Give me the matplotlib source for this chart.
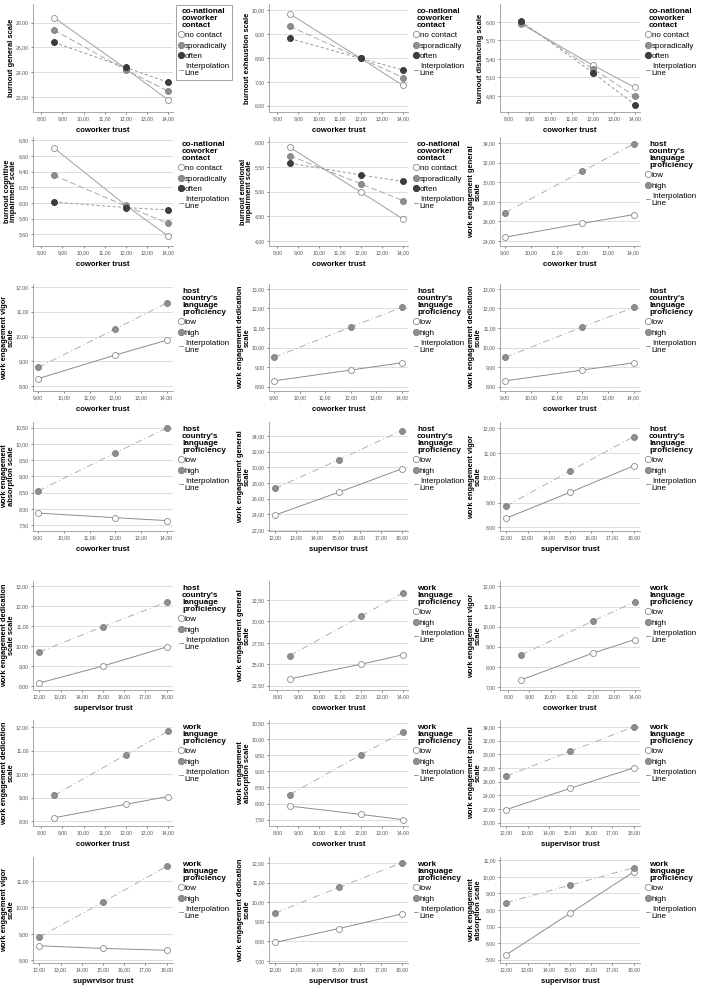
import matplotlib.pyplot as plt
from matplotlib.lines import Line2D

plt.rcParams['font.family'] = ['Liberation Sans', 'DejaVu Sans']

W, H = 708, 991

# trust levels on the x axis
cw_x = [8.6, 12.0, 14.0]
cw9_x = [9.0, 12.0, 14.0]
sup_x = [12.0, 15.0, 18.0]

# burnout by co-national coworker contact
gen_none = [28.4, 24.3, 21.8]
gen_spor = [27.4, 24.2, 22.5]
gen_often = [26.4, 24.4, 23.2]
exh_none = [9.85, 7.98, 6.85]
exh_spor = [9.33, 7.98, 7.18]
exh_often = [8.82, 7.98, 7.50]
dist_none = [5.97, 5.30, 4.94]
dist_spor = [5.99, 5.24, 4.80]
dist_often = [6.01, 5.18, 4.66]
cog_none = [6.70, 5.97, 5.58]
cog_spor = [6.35, 5.96, 5.74]
cog_often = [6.01, 5.94, 5.91]
emo_none = [5.90, 4.99, 4.45]
emo_spor = [5.73, 5.16, 4.82]
emo_often = [5.58, 5.34, 5.21]

# work engagement by host country's language proficiency
heg_low = [24.4, 25.8, 26.7]
heg_high = [26.9, 31.1, 33.9]
hvig_low = [8.3, 9.25, 9.85]
hvig_high = [8.75, 10.3, 11.35]
hded_low = [8.3, 8.85, 9.22]
hded_high = [9.5, 11.05, 12.05]
habs_low = [7.87, 7.73, 7.64]
habs_high = [8.55, 9.72, 10.48]
hsgen_low = [23.9, 26.8, 29.8]
hsgen_high = [27.3, 30.95, 34.7]
hsvig_low = [8.37, 9.41, 10.48]
hsvig_high = [8.86, 10.27, 11.66]
hsded_low = [8.15, 9.0, 9.95]
hsded_high = [9.7, 10.97, 12.2]

# work engagement by work language proficiency
wgen_low = [23.3, 25.0, 26.1]
wgen_high = [26.0, 30.6, 33.3]
wvig_low = [7.35, 8.68, 9.36]
wvig_high = [8.6, 10.27, 11.24]
wded_low = [8.15, 8.72, 9.05]
wded_high = [9.1, 10.82, 11.82]
wabs_low = [7.92, 7.66, 7.5]
wabs_high = [8.28, 9.52, 10.22]
wsgen_low = [21.9, 25.0, 28.0]
wsgen_high = [26.8, 30.4, 34.0]
wsvig_low = [8.55, 8.45, 8.38]
wsvig_high = [8.88, 10.2, 11.55]
wsded_low = [7.95, 8.65, 9.4]
wsded_high = [9.45, 10.75, 12.0]
wsabs_low = [5.3, 7.8, 10.3]
wsabs_high = [8.45, 9.5, 10.55]

cn_title = 'co-national\ncoworker\ncontact'
hl_title = "host\ncountry's\nlanguage\nproficiency"
wl_title = 'work\nlanguage\nproficiency'

def rng(a, b, s):
    out = []
    v = a
    while v <= b + 1e-9:
        out.append(round(v, 2))
        v += s
    return out

cw_ticks, cw_lim = rng(8, 14, 1), (7.6, 14.25)
cw9_ticks, cw9_lim = rng(9, 14, 1), (8.8, 14.25)
sup_ticks, sup_lim = rng(12, 18, 1), (11.7, 18.3)

CN = ['no contact', 'sporadically', 'often']
LG = ['low', 'high']

# (row, col, ylabel, xlabel, x, series, title, yticks, ylim, xticks, xlim)
panels = [
    (0, 0, 'burnout general scale', 'coworker trust', cw_x, [gen_none, gen_spor, gen_often], cn_title, rng(22, 28, 2), (20.8, 29.5), cw_ticks, cw_lim),
    (0, 1, 'burnout exhaustion scale', 'coworker trust', cw_x, [exh_none, exh_spor, exh_often], cn_title, rng(6, 10, 1), (5.73, 10.27), cw_ticks, cw_lim),
    (0, 2, 'burnout distancing scale', 'coworker trust', cw_x, [dist_none, dist_spor, dist_often], cn_title, rng(4.8, 6.0, 0.3), (4.54, 6.29), cw_ticks, cw_lim),
    (1, 0, 'burnout cognitive\nimpairment scale', 'coworker trust', cw_x, [cog_none, cog_spor, cog_often], cn_title, rng(5.6, 6.8, 0.2), (5.45, 6.84), cw_ticks, cw_lim),
    (1, 1, 'burnout emotional\nimpairment scale', 'coworker trust', cw_x, [emo_none, emo_spor, emo_often], cn_title, rng(4.0, 6.0, 0.5), (3.9, 6.11), cw_ticks, cw_lim),
    (1, 2, 'work engagement general\nscale', 'coworker trust', cw9_x, [heg_low, heg_high], hl_title, rng(24, 34, 2), (23.5, 34.6), cw9_ticks, cw9_lim),
    (2, 0, 'work engagement vigor\nscale', 'coworker trust', cw9_x, [hvig_low, hvig_high], hl_title, rng(8, 12, 1), (7.8, 12.12), cw9_ticks, cw9_lim),
    (2, 1, 'work engagement dedication\nscale', 'coworker trust', cw9_x, [hded_low, hded_high], hl_title, rng(8, 13, 1), (7.78, 13.25), cw9_ticks, cw9_lim),
    (2, 2, 'work engagement dedication\nscale', 'coworker trust', cw9_x, [hded_low, hded_high], hl_title, rng(8, 13, 1), (7.78, 13.25), cw9_ticks, cw9_lim),
    (3, 0, 'work engagement\nabsorption scale', 'coworker trust', cw9_x, [habs_low, habs_high], hl_title, rng(7.5, 10.5, 0.5), (7.32, 10.67), cw9_ticks, cw9_lim),
    (3, 1, 'work engagement general\nscale', 'supervisor trust', sup_x, [hsgen_low, hsgen_high], hl_title, rng(22, 34, 2), (21.85, 35.8), sup_ticks, sup_lim),
    (3, 2, 'work engagement vigor\nscale', 'supervisor trust', sup_x, [hsvig_low, hsvig_high], hl_title, rng(8, 12, 1), (7.85, 12.25), sup_ticks, sup_lim),
    (4, 0, 'work engagement dedication\nscale scale', 'supervisor trust', sup_x, [hsded_low, hsded_high], hl_title, rng(8, 13, 1), (7.8, 13.25), sup_ticks, sup_lim),
    (4, 1, 'work engagement general\nscale', 'coworker trust', cw_x, [wgen_low, wgen_high], wl_title, rng(22.5, 32.5, 2.5), (22.0, 34.7), cw_ticks, cw_lim),
    (4, 2, 'work engagement vigor\nscale', 'coworker trust', cw_x, [wvig_low, wvig_high], wl_title, rng(7, 12, 1), (6.85, 12.27), cw_ticks, cw_lim),
    (5, 0, 'work engagement dedication\nscale', 'coworker trust', cw_x, [wded_low, wded_high], wl_title, rng(8, 12, 1), (7.8, 12.3), cw_ticks, cw_lim),
    (5, 1, 'work engagement\nabsorption scale', 'coworker trust', cw_x, [wabs_low, wabs_high], wl_title, rng(7.5, 10.5, 0.5), (7.3, 10.6), cw_ticks, cw_lim),
    (5, 2, 'work engagement general\nscale', 'supervisor trust', sup_x, [wsgen_low, wsgen_high], wl_title, rng(20, 34, 2), (19.5, 35.0), sup_ticks, sup_lim),
    (6, 0, 'work engagement vigor\nscale', 'supwrvisor trust', sup_x, [wsvig_low, wsvig_high], wl_title, rng(8, 11, 1), (7.9, 11.9), sup_ticks, sup_lim),
    (6, 1, 'work engagement dedication\nscale', 'supervisor trust', sup_x, [wsded_low, wsded_high], wl_title, rng(7, 12, 1), (6.9, 12.3), sup_ticks, sup_lim),
    (6, 2, 'work engagement\nabsorption scale', 'supervisor trust', sup_x, [wsabs_low, wsabs_high], wl_title, rng(5, 11, 1), (4.8, 11.2), sup_ticks, sup_lim),
]

# axes placement in pixels
row_top = [4, 137, 284, 422, 581, 720, 857]
row_bot = [112, 246, 391, 531, 690, 826, 963]
col_left = [33, 269, 500]
col_w = [140, 139, 140]

styles = {
    'no contact': dict(mfc='white', mec='#8a8a8a', color='#a0a0a0', ls='-'),
    'sporadically': dict(mfc='#8f8f8f', mec='#7a7a7a', color='#a8a8a8', ls=(0, (6, 3))),
    'often': dict(mfc='#3e3e3e', mec='#2e2e2e', color='#969696', ls=(0, (3, 2.5))),
    'low': dict(mfc='white', mec='#8a8a8a', color='#8c8c8c', ls='-'),
    'high': dict(mfc='#8f8f8f', mec='#7a7a7a', color='#b0b0b0', ls=(0, (7, 3, 1, 3))),
}

def fmt(v):
    return ('%.2f' % v).replace('.', ',')

fig = plt.figure(figsize=(W / 100, H / 100), dpi=100)

for k, (r, c, ylab, xlab, xs, series, title, yt, yl, xt, xl) in enumerate(panels):
    top, bot = row_top[r], row_bot[r]
    ax = fig.add_axes([col_left[c] / W, 1 - bot / H, col_w[c] / W, (bot - top) / H])
    names = CN if title == cn_title else LG
    for name, ys in zip(names, series):
        st = styles[name]
        ax.plot(xs, ys, color=st['color'], ls=st['ls'], lw=0.7, zorder=2)
        ax.plot(xs, ys, 'o', ms=4.3, mfc=st['mfc'], mec=st['mec'], mew=0.6, zorder=3)
    ax.set_xlim(xl)
    ax.set_ylim(yl)
    ax.set_xticks(xt)
    ax.set_xticklabels([fmt(v) for v in xt])
    ax.set_yticks(yt)
    ax.set_yticklabels([fmt(v) for v in yt])
    ax.tick_params(labelsize=3.7, length=1.5, width=0.5, colors='#555555', pad=1.5)
    ax.grid(axis='y', color='#d8d8d8', lw=0.6)
    ax.set_axisbelow(True)
    for s in ['top', 'right']:
        ax.spines[s].set_visible(False)
    for s in ['left', 'bottom']:
        ax.spines[s].set_color('#999999')
        ax.spines[s].set_linewidth(0.6)
    ax.set_xlabel(xlab, fontsize=5.6, fontweight='bold', labelpad=4)
    ax.set_ylabel(ylab, fontsize=5.4, fontweight='bold', labelpad=1, linespacing=0.9)

    handles = []
    for name in names:
        st = styles[name]
        handles.append(Line2D([], [], ls='none', marker='o', ms=4.5, mfc=st['mfc'], mec=st['mec'], mew=0.6))
    handles.append(Line2D([], [], color='#888888', lw=0.6))
    labels = names + ['Interpolation\nLine']
    leg = ax.legend(handles, labels, title=title, loc='upper left',
                    bbox_to_anchor=((col_left[c] + col_w[c] + 3) / W, 1 - (top + 1) / H),
                    bbox_transform=fig.transFigure, fontsize=5.8,
                    title_fontproperties={'weight': 'bold', 'size': 5.9},
                    handlelength=0.55, handletextpad=0.2, labelspacing=0.35,
                    borderpad=0.35, borderaxespad=0, frameon=(k == 0), fancybox=False)
    leg.get_title().set_linespacing(1.0)
    for t in leg.get_texts():
        t.set_linespacing(1.0)
    if k == 0:
        leg.get_frame().set_edgecolor('#777777')
        leg.get_frame().set_linewidth(0.6)

fig.savefig('out.png', dpi=100)
